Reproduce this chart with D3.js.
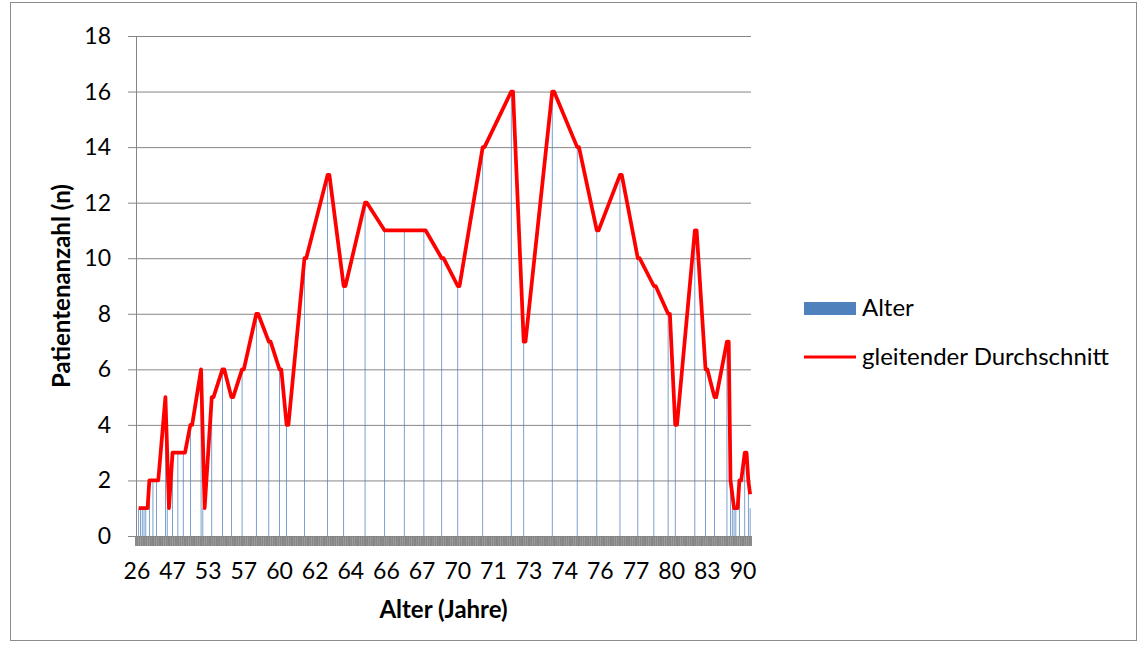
<!DOCTYPE html>
<html lang="de">
<head>
<meta charset="UTF-8" />
<title>Patientenanzahl nach Alter</title>
<script src="https://d3js.org/d3.v7.min.js"></script>
<style>
  body { margin: 0; background: #fff; }
  svg { display: block; font-family: Lato, "Open Sans", sans-serif; }
</style>
</head>
<body>
<div id="chart"></div>
<script>
// Alter (Jahre) und Anzahl Patienten pro Alter
const ages   = [26, 30, 33, 35, 37, 39, 41, 42, 44, 45, 46, 47, 48, 50, 51, 52,
                53, 54, 55, 56, 57, 58, 59, 60, 61, 62, 63, 64, 65, 66, 67, 68, 69,
                70, 71, 72, 73, 74, 75, 76, 77, 78, 79, 80, 81, 82, 83, 84,
                85, 86, 87, 88, 89, 90, 91, 92];
const counts = [1, 1, 1, 1, 1, 2, 2, 2, 5, 1, 3, 3, 3, 4, 6, 1,
                5, 6, 5, 6, 8, 7, 6, 4, 10, 13, 9, 12, 11, 11, 11, 10, 9,
                14, 16, 7, 16, 14, 11, 13, 10, 9, 8, 4, 11, 6, 5, 7,
                2, 1, 1, 1, 2, 3, 2, 1];
const labelStep = 20;           // jede 20. Kategorie beschriftet (wie Excel)
const yTicks = d3.range(0, 19, 2);
const seriesNames = ['Alter', 'gleitender Durchschnitt'];

// eine Kategorie pro Patient (sortiert), plus eine leere Zeile am Ende
const categories = ages.flatMap((a, k) => Array(counts[k]).fill(a));
categories.push('');
const N = categories.length;

// Anzahl steht in der ersten Zeile des naechsten Alters
const barVals = new Array(N).fill(null);
let pos = 0;
counts.forEach(c => { pos += c; barVals[pos] = c; });

// gleitender Durchschnitt (Periode 2), leere Zellen ignoriert
const trend = [];
for (let i = 0; i < N; i++) {
  const win = [barVals[i - 1], barVals[i]].filter(v => v != null);
  if (win.length) trend.push({ i, v: d3.mean(win) });
}

const W = 1144, H = 651;
const plotL = 136, plotR = 751, plotT = 36, plotB = 536;
const gridColor = '#868686';
const barColor = '#4f81bd';

const svg = d3.select('#chart').append('svg').attr('width', W).attr('height', H);
svg.append('rect').attr('x', 10.5).attr('y', 2.5).attr('width', 1126).attr('height', 638)
  .attr('fill', '#fff').attr('stroke', '#8c8c8c');

const x = d3.scaleBand().domain(d3.range(N)).range([plotL, plotR]).padding(0);
const cx = i => x(i) + x.bandwidth() / 2;
const y = d3.scaleLinear().domain([0, 18]).range([plotB, plotT]);

// Gitternetz + Y-Achse
svg.append('g').selectAll('line').data(yTicks).join('line')
  .attr('x1', plotL - 8).attr('x2', plotR)
  .attr('y1', d => y(d) + 0.5).attr('y2', d => y(d) + 0.5)
  .attr('stroke', gridColor).attr('stroke-width', 1);
svg.append('line').attr('x1', plotL + 0.5).attr('x2', plotL + 0.5)
  .attr('y1', plotT).attr('y2', plotB).attr('stroke', gridColor);
svg.append('g').selectAll('text').data(yTicks).join('text')
  .attr('x', 111).attr('y', d => y(d)).attr('dy', '0.35em')
  .attr('text-anchor', 'end').attr('font-size', 23).attr('fill', '#000')
  .text(d => d);

// Balken
const bw = x.bandwidth() * 0.42;
svg.append('g').selectAll('rect')
  .data(barVals.map((v, i) => ({ i, v })).filter(d => d.v != null))
  .join('rect')
  .attr('x', d => cx(d.i) - bw / 2).attr('width', bw)
  .attr('y', d => y(d.v)).attr('height', d => y(0) - y(d.v))
  .attr('fill', barColor);

// Kategorie-Teilstriche (dichtes Band)
svg.append('g').selectAll('line').data(d3.range(N + 1)).join('line')
  .attr('x1', i => plotL + i * x.step()).attr('x2', i => plotL + i * x.step())
  .attr('y1', plotB).attr('y2', plotB + 10)
  .attr('stroke', gridColor).attr('stroke-width', 1.9);

// X-Beschriftung
svg.append('g').selectAll('text')
  .data(d3.range(0, N, labelStep).filter(i => categories[i] !== ''))
  .join('text')
  .attr('x', i => cx(i)).attr('y', 579)
  .attr('text-anchor', 'middle').attr('font-size', 23).attr('fill', '#000')
  .text(i => categories[i]);

// Trendlinie
svg.append('path').datum(trend)
  .attr('d', d3.line().x(d => cx(d.i)).y(d => y(d.v)))
  .attr('fill', 'none').attr('stroke', '#ff0000').attr('stroke-width', 3.75)
  .attr('stroke-linejoin', 'round');

// Achsentitel
svg.append('text').attr('x', (plotL + plotR) / 2).attr('y', 618)
  .attr('text-anchor', 'middle').attr('font-size', 24).attr('font-weight', 'bold')
  .text('Alter (Jahre)');
svg.append('text').attr('transform', `translate(70,${(plotT + plotB) / 2}) rotate(-90)`)
  .attr('text-anchor', 'middle').attr('font-size', 24).attr('font-weight', 'bold')
  .text('Patientenanzahl (n)');

// Legende
const lg = svg.append('g').attr('transform', 'translate(804,0)');
lg.append('rect').attr('x', 0).attr('y', 302).attr('width', 52).attr('height', 13).attr('fill', barColor);
lg.append('line').attr('x1', 0).attr('x2', 52).attr('y1', 357).attr('y2', 357)
  .attr('stroke', '#ff0000').attr('stroke-width', 3);
lg.selectAll('text').data(seriesNames).join('text')
  .attr('x', 58).attr('y', (d, i) => i === 0 ? 308 : 357).attr('dy', '0.35em')
  .attr('font-size', 24).attr('fill', '#000')
  .text(d => d);
</script>
</body>
</html>
